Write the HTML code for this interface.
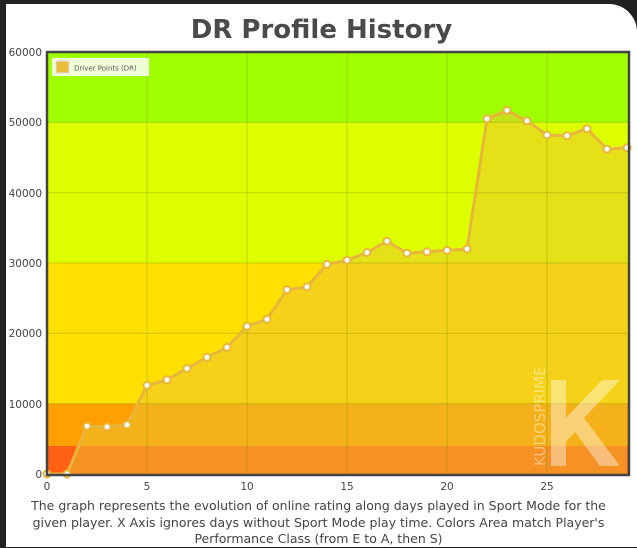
<!DOCTYPE html><html><head><style>
body{margin:0;background:#222;width:637px;height:547px;overflow:hidden;font-family:"Liberation Sans",sans-serif}
#p{position:absolute;left:6px;top:4px;width:631px;height:543px;background:#fff;border-top-right-radius:28px}
h1{position:absolute;left:3px;width:637px;top:15px;margin:0;text-align:center;font-family:"DejaVu Sans",sans-serif;font-size:26px;font-weight:bold;color:#4a4a4a}
.cap{position:absolute;left:0;width:637px;top:498px;text-align:center;font-family:"DejaVu Sans",sans-serif;font-size:12.5px;line-height:16.5px;color:#444}
</style></head><body><div id="p"></div>
<h1>DR Profile History</h1>
<svg width="637" height="547" style="position:absolute;left:0;top:0" font-family="DejaVu Sans, sans-serif">
<rect x="47" y="52" width="581" height="71" fill="#a0ff00"/>
<rect x="47" y="122.3" width="581" height="141" fill="#ddff00"/>
<rect x="47" y="263" width="581" height="141" fill="#ffe000"/>
<rect x="47" y="403.7" width="581" height="42.3" fill="#ff9f00"/>
<rect x="47" y="446" width="581" height="28" fill="#ff6014"/>
<polygon fill="rgba(235,195,50,0.5)" points="47,474 67,474 87,426.2 107,426.9 127,424.8 147,385.4 167,379.8 187,368.5 207,357.3 227,347.4 247,326.3 267,319.3 287,289.7 307,286.9 327,264.4 347,260.2 367,252.5 387,241.2 407,253.2 427,251.8 447,250.4 467,249 487,118.8 507,110.4 527,120.9 547,135 567,135.7 587,128.7 607,149.1 627,147.7 627,474"/>
<g stroke="rgba(120,140,0,0.35)" stroke-width="1">
<line x1="147" y1="52" x2="147" y2="474"/><line x1="247" y1="52" x2="247" y2="474"/><line x1="347" y1="52" x2="347" y2="474"/><line x1="447" y1="52" x2="447" y2="474"/><line x1="547" y1="52" x2="547" y2="474"/>
<line x1="47" y1="122.3" x2="628" y2="122.3"/><line x1="47" y1="192.7" x2="628" y2="192.7"/><line x1="47" y1="263" x2="628" y2="263"/><line x1="47" y1="333.3" x2="628" y2="333.3"/><line x1="47" y1="403.7" x2="628" y2="403.7"/>
</g>
<g opacity="0.4" fill="#fff"><text x="0" y="0" transform="translate(545,466) rotate(-90)" font-size="15" fill="#fff">KUDOSPRIME</text>
<polygon points="551,380 566,380 566,418 602,380 620,380 584,418 620,466 600,466 575,432 566,442 566,466 551,466"/></g>
<polyline fill="none" stroke="#e8b63a" stroke-width="3" stroke-linejoin="round" points="47,474 67,474 87,426.2 107,426.9 127,424.8 147,385.4 167,379.8 187,368.5 207,357.3 227,347.4 247,326.3 267,319.3 287,289.7 307,286.9 327,264.4 347,260.2 367,252.5 387,241.2 407,253.2 427,251.8 447,250.4 467,249 487,118.8 507,110.4 527,120.9 547,135 567,135.7 587,128.7 607,149.1 627,147.7"/>
<g fill="#fff" stroke="#e8b63a" stroke-width="2">
<circle cx="47" cy="474" r="3.5"/><circle cx="67" cy="474" r="3.5"/><circle cx="87" cy="426.2" r="3.5"/><circle cx="107" cy="426.9" r="3.5"/><circle cx="127" cy="424.8" r="3.5"/><circle cx="147" cy="385.4" r="3.5"/><circle cx="167" cy="379.8" r="3.5"/><circle cx="187" cy="368.5" r="3.5"/><circle cx="207" cy="357.3" r="3.5"/><circle cx="227" cy="347.4" r="3.5"/><circle cx="247" cy="326.3" r="3.5"/><circle cx="267" cy="319.3" r="3.5"/><circle cx="287" cy="289.7" r="3.5"/><circle cx="307" cy="286.9" r="3.5"/><circle cx="327" cy="264.4" r="3.5"/><circle cx="347" cy="260.2" r="3.5"/><circle cx="367" cy="252.5" r="3.5"/><circle cx="387" cy="241.2" r="3.5"/><circle cx="407" cy="253.2" r="3.5"/><circle cx="427" cy="251.8" r="3.5"/><circle cx="447" cy="250.4" r="3.5"/><circle cx="467" cy="249" r="3.5"/><circle cx="487" cy="118.8" r="3.5"/><circle cx="507" cy="110.4" r="3.5"/><circle cx="527" cy="120.9" r="3.5"/><circle cx="547" cy="135" r="3.5"/><circle cx="567" cy="135.7" r="3.5"/><circle cx="587" cy="128.7" r="3.5"/><circle cx="607" cy="149.1" r="3.5"/><circle cx="627" cy="147.7" r="3.5"/>
</g>
<rect x="47" y="52" width="582" height="423" fill="none" stroke="#444" stroke-width="2.5"/>
<rect x="52" y="58" width="97" height="18" fill="rgba(255,255,255,0.85)"/>
<rect x="56" y="61" width="13" height="12" fill="#ebbd3c" stroke="#ddd" stroke-width="1"/>
<text x="74" y="70.5" font-size="7" fill="#555">Driver Points (DR)</text>
<g font-size="10.5" fill="#444" text-anchor="end">
<text x="42" y="56">60000</text><text x="42" y="126">50000</text><text x="42" y="197">40000</text><text x="42" y="267">30000</text><text x="42" y="337">20000</text><text x="42" y="408">10000</text><text x="42" y="478">0</text>
</g>
<g font-size="10.5" fill="#444" text-anchor="middle">
<text x="47" y="490">0</text><text x="147" y="490">5</text><text x="247" y="490">10</text><text x="347" y="490">15</text><text x="447" y="490">20</text><text x="547" y="490">25</text>
</g>
</svg>
<div class="cap">The graph represents the evolution of online rating along days played in Sport Mode for the<br>given player. X Axis ignores days without Sport Mode play time. Colors Area match Player's<br>Performance Class (from E to A, then S)</div>
</body></html>
